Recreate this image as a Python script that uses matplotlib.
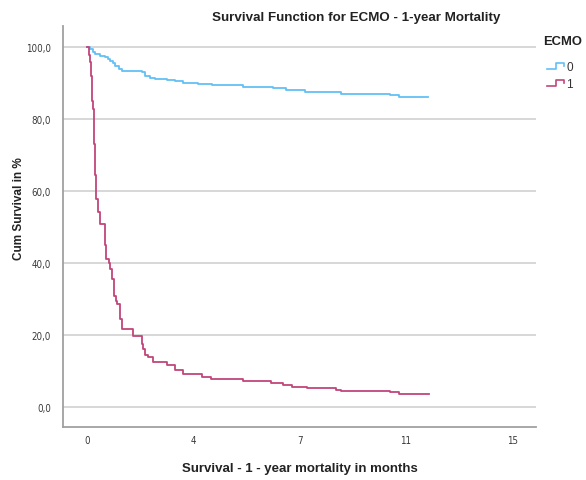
import matplotlib
matplotlib.use("Agg")
import matplotlib.pyplot as plt
from matplotlib.lines import Line2D
from matplotlib.legend_handler import HandlerBase

plt.rcParams['font.family'] = ['Liberation Sans', 'DejaVu Sans']

# Kaplan-Meier estimates (time in months, survival in %)
t_no_ecmo = [0, 0.10, 0.20, 0.28, 0.46, 0.63, 0.72, 0.81, 0.90, 0.99, 1.10, 1.22,
             1.57, 1.93, 2.04, 2.20, 2.39, 2.80, 3.10, 3.39, 3.90, 4.39, 5.50,
             6.55, 7.00, 7.70, 8.94, 10.67, 10.99, 12.04]
s_no_ecmo = [100, 99.3, 98.5, 98.0, 97.4, 97.1, 96.6, 96.0, 95.4, 94.8, 94.0, 93.4,
             93.2, 92.9, 92.0, 91.5, 91.1, 90.9, 90.5, 90.0, 89.6, 89.3, 88.8,
             88.5, 87.9, 87.5, 87.0, 86.7, 86.1, 86.1]

t_ecmo = [0, 0.05, 0.08, 0.12, 0.15, 0.18, 0.20, 0.22, 0.24, 0.26, 0.28, 0.30,
          0.32, 0.38, 0.46, 0.63, 0.66, 0.75, 0.81, 0.87, 0.93, 1.00, 1.04, 1.14,
          1.22, 1.60, 1.92, 1.98, 2.04, 2.15, 2.33, 2.80, 3.10, 3.39, 4.04, 4.35,
          5.50, 6.50, 6.91, 7.21, 7.74, 8.79, 8.97, 10.67, 11.02, 12.08]
s_ecmo = [100, 97.8, 95.7, 92.0, 87.4, 85.0, 82.8, 75.4, 73.0, 71.7, 64.3, 60.0,
          57.8, 54.1, 50.8, 45.0, 41.1, 40.0, 38.3, 35.6, 30.9, 29.5, 28.6, 24.4,
          21.7, 19.8, 17.5, 16.0, 14.3, 13.8, 12.4, 11.6, 10.1, 9.2, 8.3, 7.6,
          7.1, 6.7, 6.1, 5.6, 5.2, 4.7, 4.4, 4.0, 3.5, 3.5]

groups = ["0", "1"]
colors = ["#62C0F6", "#C1457A"]

x_ticks = [0, 3.75, 7.5, 11.25, 15]
x_tick_labels = ["0", "4", "7", "11", "15"]
y_ticks = [0, 20, 40, 60, 80, 100]
y_tick_labels = ["0,0", "20,0", "40,0", "60,0", "80,0", "100,0"]


class StepHandler(HandlerBase):
    def create_artists(self, legend, orig_handle, xdescent, ydescent,
                       width, height, fontsize, trans):
        xs = [0, 0.45 * width, 0.45 * width, 0.92 * width, 0.92 * width]
        ys = [0.1 * height, 0.1 * height, 0.85 * height, 0.85 * height, 0.5 * height]
        line = Line2D([x - xdescent for x in xs], [y - ydescent for y in ys],
                      color=orig_handle.get_color(), lw=1.2, transform=trans)
        return [line]


fig = plt.figure(figsize=(5.86, 4.81), dpi=100)
ax = fig.add_axes([0.108, 0.111, 0.807, 0.832])

h0, = ax.step(t_no_ecmo, s_no_ecmo, where="post", color=colors[0], lw=1.3)
h1, = ax.step(t_ecmo, s_ecmo, where="post", color=colors[1], lw=1.3)

ax.set_xlim(-0.85, 15.85)
ax.set_ylim(-5.5, 105.7)
ax.set_xticks(x_ticks)
ax.set_xticklabels(x_tick_labels)
ax.set_yticks(y_ticks)
ax.set_yticklabels(y_tick_labels)
ax.tick_params(length=0, labelsize=7, colors="#3A3A3A")
ax.tick_params(axis="x", pad=6)
ax.tick_params(axis="y", pad=9)
for lab in ax.get_xticklabels() + ax.get_yticklabels():
    lab.set_family("DejaVu Sans")
    lab.set_stretch("condensed")

ax.yaxis.grid(True, color="#D4D4D4", lw=1.3)
ax.set_axisbelow(True)
for side in ["top", "right"]:
    ax.spines[side].set_visible(False)
for side in ["left", "bottom"]:
    ax.spines[side].set_color("#A0A0A0")
    ax.spines[side].set_linewidth(1.3)

fig.text(356 / 586, 1 - 18 / 481, "Survival Function for ECMO - 1-year Mortality",
         fontsize=9.6, fontweight="bold", color="#222222", ha="center", va="center")
ax.set_xlabel("Survival - 1 - year mortality in months", fontsize=9.5,
              fontweight="bold", color="#222222", va="center")
ax.xaxis.set_label_coords(0.5, -0.104)
ax.set_ylabel("Cum Survival in %", fontsize=8.5, fontweight="bold",
              color="#222222", va="center")
ax.yaxis.set_label_coords(-0.093, 0.546)

# legend title drawn apart so the entries can sit indented under it
fig.text(543 / 586, 1 - 42 / 481, "ECMO", fontsize=9.4, fontweight="bold",
         color="#222222", ha="left", va="center")
leg = fig.legend([h0, h1], groups, loc="upper left",
                 bbox_to_anchor=(547 / 586, 1 - 62 / 481), frameon=False,
                 handler_map={Line2D: StepHandler()}, handlelength=1.6,
                 handleheight=0.6, handletextpad=0.05, labelspacing=0.4,
                 fontsize=8.5, borderpad=0, borderaxespad=0)
for txt in leg.get_texts():
    txt.set_color("#333333")

fig.savefig("out.png", dpi=100)
